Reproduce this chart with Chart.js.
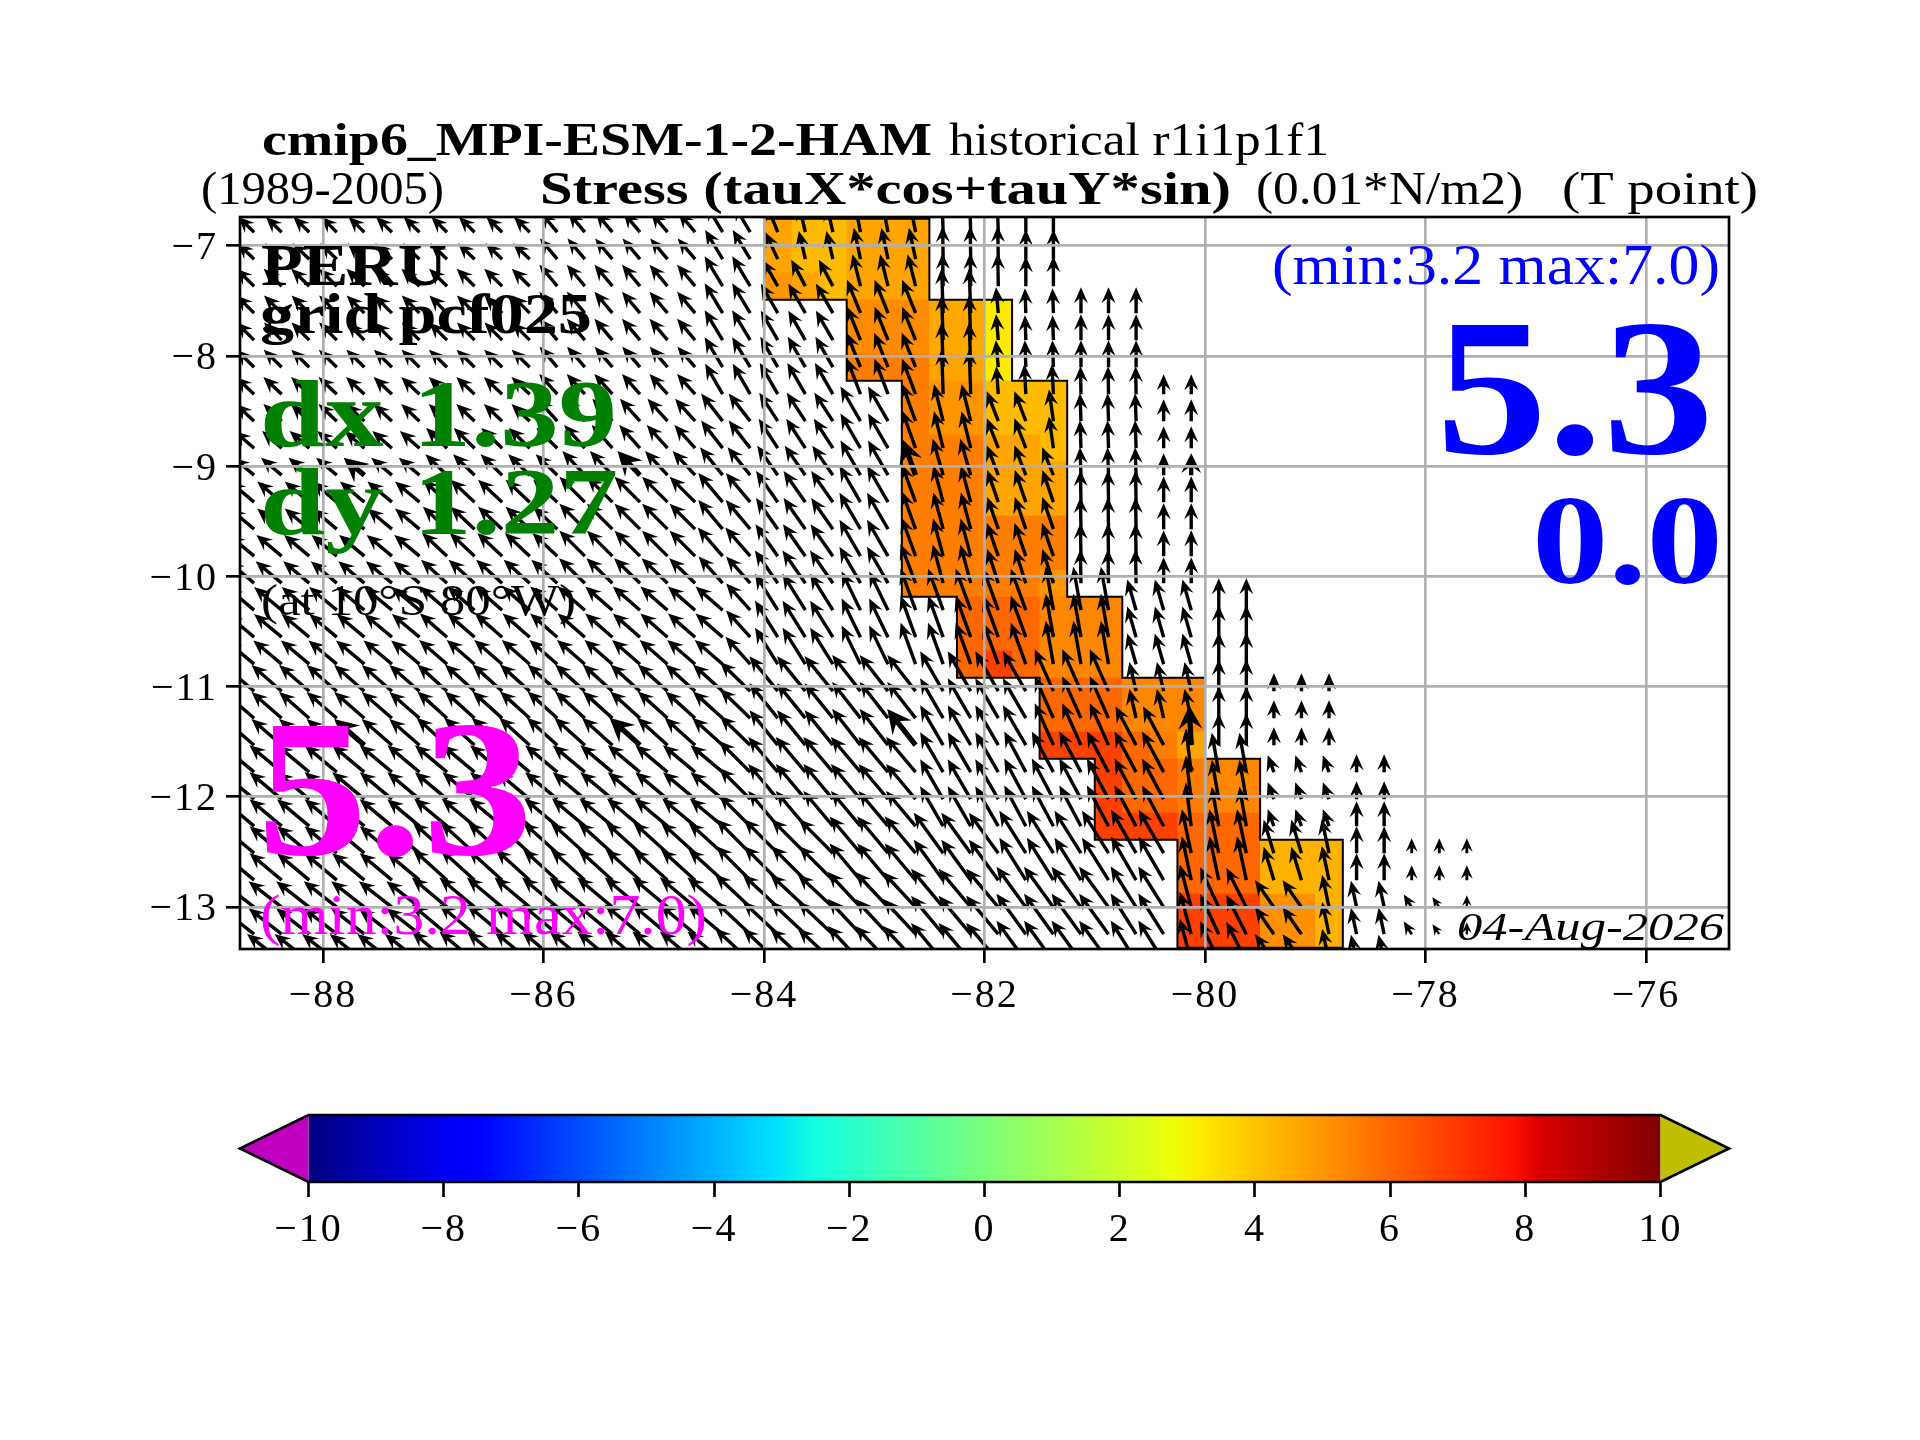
<!DOCTYPE html>
<html>
<head>
<meta charset="utf-8">
<title>Stress map</title>
<script src="https://cdn.jsdelivr.net/npm/chart.js@4"></script>
<style>
  html, body { margin: 0; background: #fff; }
  canvas { position: absolute; left: 0; top: 0; }
</style>
</head>
<body>
<canvas id="mapa" width="1920" height="1440"></canvas>
<canvas id="barra" width="1920" height="1440"></canvas>
<script>
const xTicks = [-88, -86, -84, -82, -80, -78, -76];
const yTicks = [-7, -8, -9, -10, -11, -12, -13];
const cbTicks = [-10, -8, -6, -4, -2, 0, 2, 4, 6, 8, 10];

// latitude edges of the grid rows, top to bottom (row 0 = first row in the plot)
const latEdges = [-6.755, -7, -7.245, -7.49, -7.735, -7.98, -8.225, -8.47, -8.715, -8.96, -9.205, -9.45, -9.695, -9.94,
  -10.185, -10.43, -10.675, -10.92, -11.165, -11.41, -11.655, -11.9, -12.145, -12.39, -12.635, -12.88, -13.125, -13.37];
const rowLats = [-6.8775, -7.1225, -7.3675, -7.6125, -7.8575, -8.1025, -8.3475, -8.5925, -8.8375, -9.0825, -9.3275, -9.5725,
  -9.8175, -10.0625, -10.3075, -10.5525, -10.7975, -11.0425, -11.2875, -11.5325, -11.7775, -12.0225, -12.2675, -12.5125,
  -12.7575, -13.0025, -13.2475, -13.4925];

// coloured cells per row: [lon west, lon east, value]
const cellRows = [
  [[-84, -83.75, 4.7], [-83.75, -83.25, 4.2], [-83.25, -82.5, 4.7]],
  [[-84, -83.75, 4.7], [-83.75, -83.25, 4.2], [-83.25, -82.5, 4.7]],
  [[-84, -83.75, 5.0], [-83.75, -83.5, 4.7], [-83.5, -83.25, 4.2], [-83.25, -82.5, 4.7]],
  [[-83.25, -82.5, 5.2], [-82.5, -82, 4.6], [-82, -81.75, 3.2]],
  [[-83.25, -82.5, 5.2], [-82.5, -82, 4.6], [-82, -81.75, 3.2]],
  [[-83.25, -82.5, 5.5], [-82.5, -82, 4.7], [-82, -81.75, 3.2]],
  [[-82.75, -82.5, 5.5], [-82.5, -82, 5.0], [-82, -81.25, 4.2]],
  [[-82.75, -82.5, 5.5], [-82.5, -82, 5.0], [-82, -81.25, 4.2]],
  [[-82.75, -82, 5.5], [-82, -81.5, 4.7], [-81.5, -81.25, 4.2]],
  [[-82.75, -82, 5.5], [-82, -81.25, 4.7]],
  [[-82.75, -82, 5.5], [-82, -81.25, 4.7]],
  [[-82.75, -81.25, 5.5]],
  [[-82.75, -81.25, 5.5]],
  [[-82.75, -81.5, 5.5], [-81.5, -81.25, 5.0]],
  [[-82.25, -81.5, 6.0], [-81.5, -80.75, 5.3]],
  [[-82.25, -81.5, 6.0], [-81.5, -80.75, 5.3]],
  [[-82.25, -82, 6.0], [-82, -81.75, 6.8], [-81.75, -81.5, 6.0], [-81.5, -80.75, 5.3]],
  [[-81.5, -80.75, 6.0], [-80.75, -80, 5.3]],
  [[-81.5, -80.75, 6.0], [-80.75, -80, 5.3]],
  [[-81.5, -80.75, 6.8], [-80.75, -80.5, 6.0], [-80.5, -80.25, 5.5], [-80.25, -80, 4.7]],
  [[-81, -80.75, 6.8], [-80.75, -80.25, 6.0], [-80.25, -80, 5.5], [-80, -79.5, 5.3]],
  [[-81, -80.75, 6.8], [-80.75, -80.25, 6.0], [-80.25, -80, 5.5], [-80, -79.5, 5.3]],
  [[-81, -80.25, 6.8], [-80.25, -79.5, 6.0]],
  [[-80.25, -79.5, 6.0], [-79.5, -78.75, 4.4]],
  [[-80.25, -79.5, 6.0], [-79.5, -78.75, 4.4]],
  [[-80.25, -79.5, 6.8], [-79.5, -79, 5.1], [-79, -78.75, 4.4]],
  [[-80.25, -79.5, 6.8], [-79.5, -79, 5.1], [-79, -78.75, 4.4]]
];

// wind stress arrows per row, from lon -88.625 every 0.25: [last lon of the run, tilt west of north, magnitude]
const arrowRows = [
  [[-86.125, 46, 22], [-84.625, 40, 26], [-84.125, 31, 32], [-83.875, 22, 30], [-83.375, 13, 28], [-82.625, 11, 32], [-81.875, 2, 36], [-81.375, 0, 30]],
  [[-86.125, 46, 23], [-84.625, 40, 27], [-84.125, 31, 34], [-83.875, 25, 30], [-83.375, 13, 29], [-82.625, 12, 32], [-81.875, 1, 33], [-81.375, 0, 30]],
  [[-86.125, 46, 25], [-84.625, 40, 28], [-84.125, 31, 35], [-83.875, 30, 30], [-83.375, 28, 30], [-82.625, 14, 33], [-81.875, 1, 33], [-81.375, 0, 30]],
  [[-86.125, 45, 25], [-84.625, 40, 28], [-84.125, 31, 35], [-83.375, 30, 34], [-82.625, 22, 36], [-82.125, 2, 45], [-81.875, 5, 26], [-81.375, 2, 25], [-80.625, 0, 26]],
  [[-86.125, 45, 25], [-84.625, 40, 28], [-84.125, 31, 35], [-83.375, 30, 34], [-82.625, 22, 36], [-82.125, 2, 45], [-81.875, 5, 26], [-81.375, 2, 25], [-80.625, 0, 26]],
  [[-86.125, 46, 25], [-84.625, 41, 27], [-84.125, 31, 35], [-83.375, 30, 35], [-82.625, 22, 37], [-82.125, 2, 45], [-81.875, 5, 27], [-81.375, 2, 27], [-80.625, 0, 27]],
  [[-86.125, 47, 25], [-84.625, 42, 27], [-84.125, 30, 35], [-83.375, 30, 36], [-82.625, 21, 38], [-82.125, 2, 45], [-81.875, 4, 28], [-81.375, 3, 30], [-80.625, 1, 28], [-80.125, 0, 20]],
  [[-86.125, 47, 25], [-84.625, 42, 30], [-84.125, 38, 35], [-83.375, 33, 34], [-82.875, 30, 40], [-82.625, 20, 40], [-82.125, 14, 38], [-81.625, 21, 32], [-81.375, 8, 32], [-80.625, 2, 28], [-80.125, 0, 22]],
  [[-87.125, 49, 26], [-85.875, 46, 29], [-84.625, 42, 31], [-84.125, 38, 35], [-83.375, 33, 35], [-82.875, 30, 40], [-82.625, 20, 40], [-82.125, 14, 38], [-81.625, 21, 32], [-81.375, 8, 32], [-80.625, 2, 28], [-80.125, 0, 22]],
  [[-87.125, 50, 27], [-85.875, 46, 30], [-84.625, 43, 33], [-84.125, 39, 36], [-83.375, 35, 36], [-82.875, 30, 40], [-82.625, 20, 38], [-82.125, 16, 38], [-81.625, 21, 32], [-81.375, 22, 30], [-80.625, 2, 28], [-80.125, 0, 22]],
  [[-87.125, 50, 32], [-85.875, 47, 33], [-84.625, 45, 36], [-84.125, 40, 38], [-83.375, 35, 38], [-82.875, 30, 42], [-82.625, 20, 40], [-82.125, 15, 38], [-81.375, 19, 34], [-80.625, 1, 32], [-80.125, 0, 26]],
  [[-87.125, 50, 32], [-85.875, 47, 33], [-84.625, 45, 36], [-84.125, 40, 38], [-83.375, 35, 38], [-82.875, 30, 42], [-82.625, 20, 40], [-82.125, 15, 38], [-81.375, 19, 34], [-80.625, 1, 32], [-80.125, 0, 26]],
  [[-87.125, 50, 33], [-85.875, 47, 34], [-84.625, 45, 36], [-84.125, 41, 38], [-83.375, 35, 39], [-82.875, 30, 42], [-82.625, 20, 41], [-82.125, 15, 39], [-81.375, 19, 35], [-80.625, 1, 33], [-80.125, 0, 26]],
  [[-87.125, 50, 34], [-85.875, 48, 35], [-84.625, 46, 36], [-84.125, 42, 36], [-83.375, 35, 40], [-82.875, 30, 42], [-82.625, 21, 42], [-82.125, 15, 40], [-81.375, 18, 36], [-80.625, 1, 34], [-80.125, 0, 26]],
  [[-87.125, 50, 36], [-84.375, 49, 36], [-84.125, 42, 36], [-83.375, 32, 43], [-82.875, 26, 43], [-81.625, 20, 44], [-80.875, 10, 44], [-80.125, 16, 32], [-79.625, 0, 32]],
  [[-87.125, 50, 36], [-84.375, 49, 36], [-84.125, 42, 36], [-83.375, 32, 43], [-82.875, 26, 43], [-81.625, 20, 44], [-80.875, 10, 44], [-80.125, 16, 32], [-79.625, 0, 32]],
  [[-87.125, 50, 37], [-84.375, 49, 37], [-84.125, 42, 37], [-83.375, 32, 43], [-82.875, 26, 43], [-81.625, 20, 44], [-80.875, 10, 44], [-80.125, 16, 32], [-79.625, 0, 32]],
  [[-87.125, 49, 40], [-84.375, 48, 40], [-84.125, 46, 42], [-83.375, 39, 45], [-82.625, 38, 46], [-81.625, 30, 46], [-80.875, 24, 46], [-80.125, 13, 30], [-79.625, 0, 32], [-78.875, 0, 18]],
  [[-87.125, 49, 40], [-84.375, 48, 40], [-84.125, 46, 42], [-83.375, 39, 45], [-82.625, 38, 46], [-81.625, 30, 46], [-80.875, 24, 46], [-80.125, 13, 30], [-79.625, 0, 32], [-78.875, 0, 18]],
  [[-87.125, 49, 40], [-84.375, 48, 41], [-84.125, 46, 42], [-83.375, 39, 45], [-82.625, 38, 46], [-81.625, 30, 46], [-80.875, 24, 46], [-80.375, 28, 44], [-80.125, 3, 40], [-79.625, 0, 32], [-78.875, 0, 18]],
  [[-87.125, 50, 42], [-84.375, 50, 42], [-84.125, 45, 44], [-82.625, 40, 46], [-81.875, 30, 46], [-80.375, 28, 46], [-80.125, 7, 44], [-79.625, 10, 40], [-78.875, 20, 18], [-78.375, 0, 18]],
  [[-87.125, 50, 42], [-84.375, 50, 42], [-84.125, 45, 44], [-82.625, 40, 46], [-81.875, 30, 46], [-80.375, 28, 46], [-80.125, 7, 44], [-79.625, 10, 40], [-78.875, 20, 18], [-78.375, 0, 18]],
  [[-87.125, 50, 42], [-84.375, 50, 43], [-84.125, 45, 44], [-82.625, 40, 46], [-81.875, 30, 46], [-80.375, 28, 46], [-80.125, 7, 44], [-79.625, 10, 40], [-78.875, 20, 18], [-78.375, 0, 25]],
  [[-87.125, 50, 42], [-84.375, 48, 46], [-83.375, 45, 48], [-82.625, 40, 48], [-81.875, 36, 50], [-80.875, 32, 50], [-80.375, 30, 50], [-79.625, 12, 45], [-79.125, 17, 35], [-78.875, 12, 35], [-78.375, 0, 27], [-77.625, 0, 15]],
  [[-87.125, 50, 42], [-84.375, 48, 46], [-83.375, 45, 48], [-82.625, 40, 48], [-81.875, 36, 50], [-80.875, 32, 50], [-80.375, 30, 50], [-79.625, 12, 45], [-79.125, 17, 35], [-78.875, 12, 35], [-78.375, 0, 27], [-77.625, 0, 15]],
  [[-87.125, 52, 42], [-84.375, 50, 46], [-83.375, 47, 48], [-82.625, 43, 48], [-81.875, 40, 50], [-80.875, 36, 50], [-80.375, 32, 48], [-80.125, 15, 44], [-79.875, 25, 44], [-79.625, 27, 44], [-79.125, 35, 33], [-78.875, 12, 33], [-78.375, 12, 27], [-78.125, 32, 15], [-77.875, 35, 12], [-77.625, 0, 12]],
  [[-87.125, 52, 42], [-84.375, 50, 46], [-83.375, 47, 48], [-82.625, 43, 48], [-81.875, 40, 50], [-80.875, 36, 50], [-80.375, 32, 48], [-80.125, 15, 44], [-79.875, 25, 44], [-79.625, 27, 44], [-79.125, 35, 33], [-78.875, 12, 33], [-78.375, 12, 27], [-78.125, 32, 15], [-77.875, 35, 12], [-77.625, 0, 12]],
  [[-87.125, 52, 44], [-84.375, 50, 46], [-83.375, 47, 48], [-82.625, 43, 48], [-81.875, 40, 50], [-80.875, 36, 50], [-80.375, 32, 48], [-80.125, 15, 44], [-79.875, 25, 44], [-79.625, 27, 44], [-79.125, 35, 33], [-78.875, 12, 33], [-78.375, 12, 27]]
];
// arrows that come out heavier in the picture: [lon, lat]
const heavyArrows = [[-87.625, -9.0825], [-85.125, -9.0825], [-82.625, -9.0825], [-80.125, -9.0825],
  [-87.625, -11.5325], [-85.125, -11.5325], [-82.625, -11.5325], [-80.125, -11.5325]];

// jet colormap: [fraction, r, g, b]
const jetStops = [[0, 0, 0, 127], [0.11, 0, 0, 255], [0.125, 0, 0, 255], [0.34, 0, 219, 255], [0.35, 0, 229, 247], [0.375, 20, 255, 226],
  [0.64, 238, 255, 8], [0.65, 246, 244, 0], [0.66, 255, 234, 0], [0.89, 255, 18, 0], [0.91, 218, 0, 0], [1, 127, 0, 0]];

const serif = '"Liberation Serif", serif';
// text drawn over the plot: string, x, baseline, width, font, colour
const labels = [
  ['cmip6_MPI-ESM-1-2-HAM', 262, 155, 670, 'bold 47px ' + serif, '#000'],
  ['historical r1i1p1f1', 949, 155, 380, '47px ' + serif, '#000'],
  ['(1989-2005)', 201, 204, 243, '47px ' + serif, '#000'],
  ['Stress (tauX*cos+tauY*sin)', 540, 204, 691, 'bold 47px ' + serif, '#000'],
  ['(0.01*N/m2)', 1256, 204, 267, '47px ' + serif, '#000'],
  ['(T point)', 1562, 204, 196, '47px ' + serif, '#000'],
  ['PERU', 261, 285, 186, 'bold 60px ' + serif, '#000'],
  ['grid pcf025', 260, 333, 332, 'bold 56px ' + serif, '#000'],
  ['dx 1.39', 260, 446, 357, 'bold 96px ' + serif, '#008000'],
  ['dy 1.27', 260, 534, 358, 'bold 96px ' + serif, '#008000'],
  ['(at 10°S 80°W)', 261, 615, 315, '44px ' + serif, '#000'],
  ['5.3', 257, 854, 276, 'bold 195px ' + serif, '#ff00ff'],
  ['(min:3.2 max:7.0)', 260, 934, 447, '58px ' + serif, '#ff00ff'],
  ['(min:3.2 max:7.0)', 1272, 284, 448, '58px ' + serif, '#0000ff'],
  ['5.3', 1436, 453, 278, 'bold 195px ' + serif, '#0000ff'],
  ['0.0', 1532, 583, 191, 'bold 128px ' + serif, '#0000ff'],
  ['04-Aug-2026', 1457, 940, 267, 'italic 40px ' + serif, '#000']
];

const LW = 2.67;

function valueColor(v) {
  const f = (v + 10) / 20;
  for (let i = 1; i < jetStops.length; i++) {
    if (f <= jetStops[i][0]) {
      const a = jetStops[i - 1], b = jetStops[i], t = (f - a[0]) / (b[0] - a[0]);
      return 'rgb(' + [1, 2, 3].map(c => Math.round(a[c] + (b[c] - a[c]) * t)).join(',') + ')';
    }
  }
  return 'rgb(127,0,0)';
}

// build the scatter points the chart keeps
const cellPoints = [];
cellRows.forEach((runs, r) => runs.forEach(run => {
  cellPoints.push({ x: run[0], y: latEdges[r], lonE: run[1], latS: latEdges[r + 1], v: run[2] });
}));
const arrowPoints = [];
arrowRows.forEach((runs, r) => {
  let lon = -88.625;
  runs.forEach(run => {
    for (; lon <= run[0] + 1e-6; lon += 0.25) {
      const heavy = heavyArrows.some(h => h[0] === lon && h[1] === rowLats[r]);
      arrowPoints.push({ x: lon, y: rowLats[r], tilt: run[1], mag: run[2], heavy: heavy });
    }
  });
});

function drawArrow(ctx, px, py, p) {
  const a = p.tilt * Math.PI / 180;
  const ux = -Math.sin(a), uy = -Math.cos(a);   // along the arrow
  const nx = -uy, ny = ux;                      // across it
  const len = p.mag;
  let hl = p.heavy ? 24 : 16, hw = p.heavy ? 12 : 7, sw = p.heavy ? 2.6 : 1.7;
  if (hl > len * 0.9) { const k = len * 0.9 / hl; hl *= k; hw *= k; sw *= k; }
  const tx = px + ux * len, ty = py + uy * len;
  const bx = tx - ux * hl, by = ty - uy * hl;      // back corners of the head
  const mx = tx - ux * hl * 0.72, my = ty - uy * hl * 0.72; // notch
  ctx.beginPath();
  ctx.moveTo(px + nx * sw, py + ny * sw);
  ctx.lineTo(mx + nx * sw, my + ny * sw);
  ctx.lineTo(bx + nx * hw, by + ny * hw);
  ctx.lineTo(tx, ty);
  ctx.lineTo(bx - nx * hw, by - ny * hw);
  ctx.lineTo(mx - nx * sw, my - ny * sw);
  ctx.lineTo(px - nx * sw, py - ny * sw);
  ctx.closePath();
  ctx.fill();
}

const campoPlugin = {
  id: 'campo',
  beforeDraw(chart) { chart.ctx.letterSpacing = '2px'; },
  beforeDatasetsDraw(chart) {
    const ctx = chart.ctx, sx = chart.scales.x, sy = chart.scales.y, area = chart.chartArea;
    ctx.save();
    ctx.beginPath();
    ctx.rect(area.left, area.top, area.width, area.height);
    ctx.clip();
    // filled cells
    cellPoints.forEach(c => {
      const x0 = sx.getPixelForValue(c.x), x1 = sx.getPixelForValue(c.lonE);
      const y0 = sy.getPixelForValue(c.y), y1 = sy.getPixelForValue(c.latS);
      ctx.fillStyle = valueColor(c.v);
      ctx.fillRect(x0, y0, x1 - x0 + 0.5, y1 - y0 + 0.5);
    });
    // outline of the filled area, only where a neighbouring row or column is empty
    const covered = (lon, r) => r >= 0 && r < cellRows.length && cellRows[r].some(u => lon >= u[0] && lon < u[1]);
    ctx.strokeStyle = '#000';
    ctx.lineWidth = 2;
    ctx.lineCap = 'square';
    ctx.beginPath();
    cellRows.forEach((runs, r) => runs.forEach(run => {
      for (let lon = run[0]; lon < run[1] - 1e-6; lon += 0.25) {
        const x0 = sx.getPixelForValue(lon), x1 = sx.getPixelForValue(lon + 0.25);
        const y0 = sy.getPixelForValue(latEdges[r]), y1 = sy.getPixelForValue(latEdges[r + 1]);
        if (!covered(lon + 0.01, r - 1)) { ctx.moveTo(x0, y0); ctx.lineTo(x1, y0); }
        if (!covered(lon + 0.01, r + 1)) { ctx.moveTo(x0, y1); ctx.lineTo(x1, y1); }
        if (!covered(lon - 0.01, r)) { ctx.moveTo(x0, y0); ctx.lineTo(x0, y1); }
        if (!covered(lon + 0.26, r)) { ctx.moveTo(x1, y0); ctx.lineTo(x1, y1); }
      }
    }));
    ctx.stroke();
    ctx.restore();
  },
  afterDatasetsDraw(chart) {
    const ctx = chart.ctx, area = chart.chartArea;
    const meta = chart.getDatasetMeta(1);
    ctx.save();
    ctx.beginPath();
    ctx.rect(area.left, area.top, area.width, area.height);
    ctx.clip();
    ctx.fillStyle = '#000';
    meta.data.forEach((el, i) => drawArrow(ctx, el.x, el.y, arrowPoints[i]));
    ctx.restore();
  },
  afterDraw(chart) {
    const ctx = chart.ctx, area = chart.chartArea;
    ctx.letterSpacing = '0px';
    ctx.save();
    ctx.strokeStyle = '#000';
    ctx.lineWidth = LW;
    ctx.strokeRect(area.left, area.top, area.width, area.height);
    ctx.textBaseline = 'alphabetic';
    ctx.textAlign = 'left';
    labels.forEach(l => {
      ctx.font = l[4];
      ctx.fillStyle = l[5];
      ctx.save();
      ctx.translate(l[1], l[2]);
      ctx.scale(l[3] / ctx.measureText(l[0]).width, 1);
      ctx.fillText(l[0], 0, 0);
      ctx.restore();
    });
    ctx.restore();
  }
};

const minusSign = v => String(v).replace('-', '\u2212');

new Chart(document.getElementById('mapa'), {
  type: 'scatter',
  data: {
    datasets: [
      { label: 'cells', data: cellPoints, pointRadius: 0 },
      { label: 'stress', data: arrowPoints, pointRadius: 0 }
    ]
  },
  options: {
    responsive: false,
    animation: false,
    events: [],
    layout: { padding: { left: 0, top: 217, right: 191, bottom: 391 } },
    plugins: { legend: { display: false }, tooltip: { enabled: false } },
    scales: {
      x: {
        type: 'linear', min: -88.753, max: -75.247,
        afterBuildTicks: s => { s.ticks = xTicks.map(v => ({ value: v })); },
        afterFit: s => { s.height = 100; },
        grid: { z: 1, color: '#b0b0b0', lineWidth: LW, tickColor: '#000', tickWidth: LW, tickLength: 14 },
        border: { display: false },
        ticks: { color: '#000', font: { family: serif, size: 40 }, padding: 9, maxRotation: 0, autoSkip: false, callback: minusSign }
      },
      y: {
        type: 'linear', min: -13.382, max: -6.74,
        afterBuildTicks: s => { s.ticks = yTicks.map(v => ({ value: v })); },
        afterFit: s => { s.width = 240; },
        grid: { z: 1, color: '#b0b0b0', lineWidth: LW, tickColor: '#000', tickWidth: LW, tickLength: 14 },
        border: { display: false },
        ticks: { color: '#000', font: { family: serif, size: 40 }, padding: 8, labelOffset: 3, autoSkip: false, callback: minusSign }
      }
    }
  },
  plugins: [campoPlugin]
});

const barraPlugin = {
  id: 'barra',
  beforeDraw(chart) { chart.ctx.letterSpacing = '2px'; },
  beforeDatasetsDraw(chart) {
    const ctx = chart.ctx, sx = chart.scales.x, area = chart.chartArea;
    const x0 = sx.getPixelForValue(-10), x1 = sx.getPixelForValue(10);
    const grad = ctx.createLinearGradient(x0, 0, x1, 0);
    jetStops.forEach(s => grad.addColorStop(s[0], 'rgb(' + s[1] + ',' + s[2] + ',' + s[3] + ')'));
    const mid = (area.top + area.bottom) / 2;
    ctx.save();
    ctx.fillStyle = grad;
    ctx.fillRect(x0, area.top, x1 - x0, area.height);
    ctx.fillStyle = '#bf00bf';
    ctx.beginPath();
    ctx.moveTo(x0, area.top); ctx.lineTo(240, mid); ctx.lineTo(x0, area.bottom); ctx.closePath();
    ctx.fill();
    ctx.fillStyle = '#bfbf00';
    ctx.beginPath();
    ctx.moveTo(x1, area.top); ctx.lineTo(1729, mid); ctx.lineTo(x1, area.bottom); ctx.closePath();
    ctx.fill();
    ctx.strokeStyle = '#000';
    ctx.lineWidth = LW;
    ctx.lineJoin = 'miter';
    ctx.beginPath();
    ctx.moveTo(x0, area.top); ctx.lineTo(x1, area.top); ctx.lineTo(1729, mid); ctx.lineTo(x1, area.bottom);
    ctx.lineTo(x0, area.bottom); ctx.lineTo(240, mid); ctx.closePath();
    ctx.stroke();
    ctx.restore();
  }
};

new Chart(document.getElementById('barra'), {
  type: 'scatter',
  data: { datasets: [{ label: 'colorbar', data: cbTicks.map(v => ({ x: v, y: 0 })), pointRadius: 0 }] },
  options: {
    responsive: false,
    animation: false,
    events: [],
    layout: { padding: { left: 308.5, top: 1115, right: 259.5, bottom: 158 } },
    plugins: { legend: { display: false }, tooltip: { enabled: false } },
    scales: {
      x: {
        type: 'linear', min: -10, max: 10,
        afterBuildTicks: s => { s.ticks = cbTicks.map(v => ({ value: v })); },
        afterFit: s => { s.height = 100; },
        grid: { drawOnChartArea: false, tickColor: '#000', tickWidth: LW, tickLength: 15 },
        border: { display: false },
        ticks: { color: '#000', font: { family: serif, size: 40 }, padding: 9, maxRotation: 0, autoSkip: false, callback: minusSign }
      },
      y: { display: false, min: -1, max: 1 }
    }
  },
  plugins: [barraPlugin]
});
</script>
</body>
</html>
